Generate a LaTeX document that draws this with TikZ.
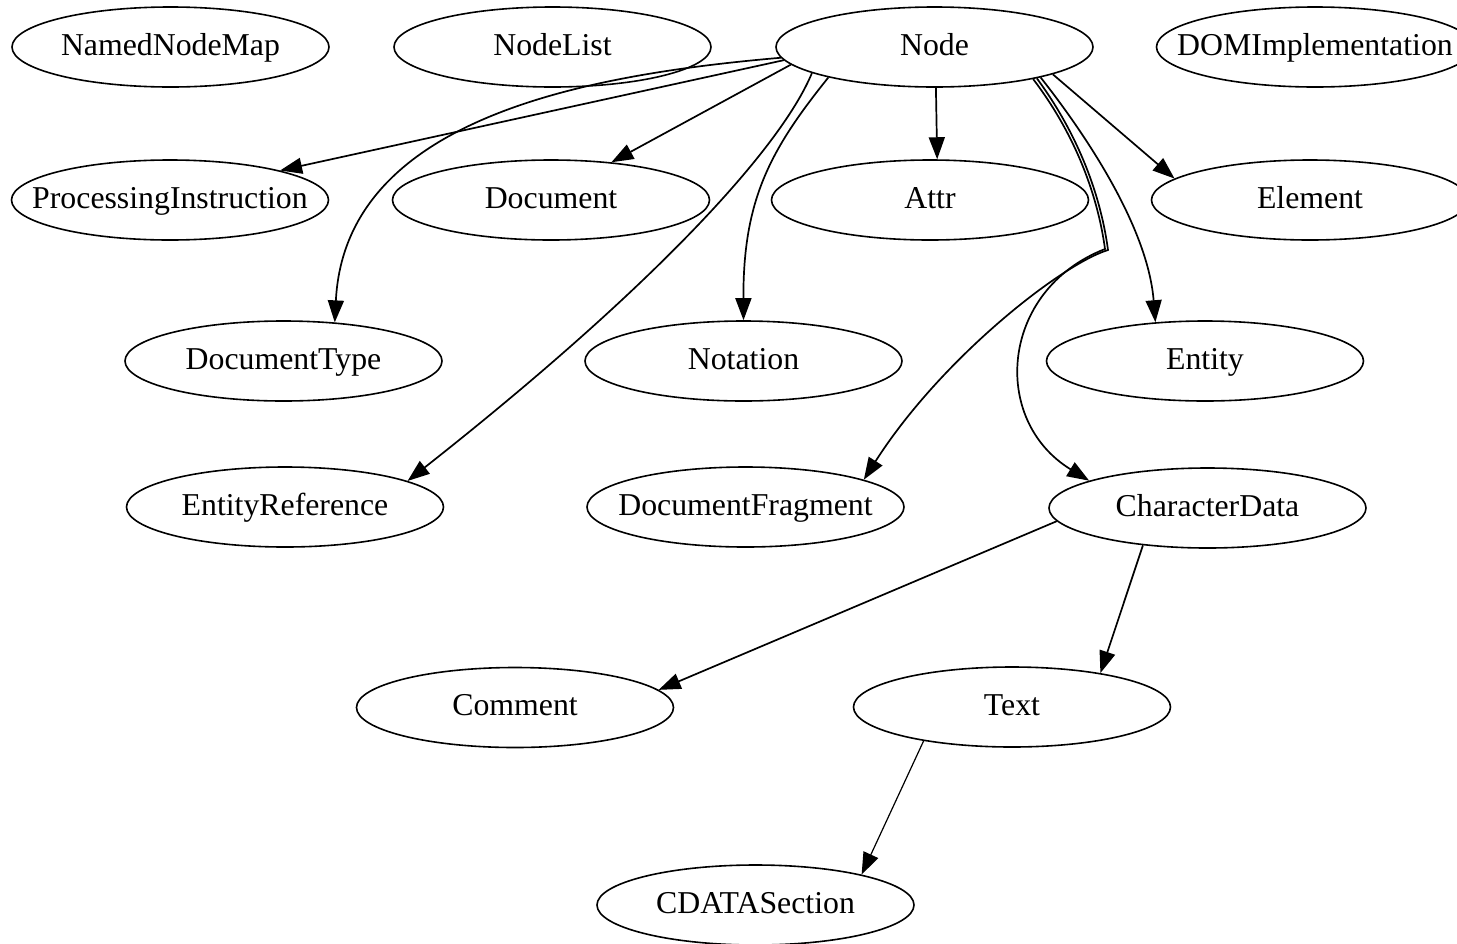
\documentclass[tikz,border=0pt]{standalone}
\usepackage{fontspec}
\setmainfont{Liberation Serif}
\usetikzlibrary{arrows.meta,shapes.geometric}
\begin{document}
\begin{tikzpicture}[x=1pt,y=-1pt,
  cls/.style={draw, ellipse, line width=1.6pt, minimum width=317pt, minimum height=80pt,
    inner xsep=-30pt, inner ysep=0pt, text height=22pt, text depth=6pt,
    font=\fontsize{31.8}{36}\selectfont},
  inh/.style={line width=1.7pt, -{Triangle[length=22pt,width=16pt]}},
  inhthin/.style={inh, line width=1.2pt},
]
\fill[white] (0,0) rectangle (1457,943);
\useasboundingbox (0,0) rectangle (1457,943);
\clip (0,0) rectangle (1457,943);

% interfaces
\node[cls] (NamedNodeMap)      at (170.5,47)  {NamedNodeMap};
\node[cls] (NodeList)          at (552.5,47)  {NodeList};
\node[cls] (Node)              at (934.5,47)  {Node};
\node[cls] (DOMImplementation) at (1315,47)   {DOMImplementation};
\node[cls] (PI)                at (170,200)   {ProcessingInstruction};
\node[cls] (Document)          at (551,200)   {Document};
\node[cls] (Attr)              at (930,200)   {Attr};
\node[cls] (Element)           at (1310,200)  {Element};
\node[cls] (DocumentType)      at (283.5,361) {DocumentType};
\node[cls] (Notation)          at (743.5,361) {Notation};
\node[cls] (Entity)            at (1205,361)  {Entity};
\node[cls] (EntityReference)   at (285,507)   {EntityReference};
\node[cls] (DocumentFragment)  at (745.5,507) {DocumentFragment};
\node[cls] (CharacterData)     at (1207.5,508){CharacterData};
\node[cls] (Comment)           at (515,707.5) {Comment};
\node[cls] (Text)              at (1012,707)  {Text};
\node[cls] (CDATASection)      at (755.5,905) {CDATASection};

% inheritance from Node
\draw[inh] (Node.185.6) -- (PI.15.5);
\draw[inh] (Node.184.2) .. controls (580,75) and (345,120) .. (DocumentType.37);
\draw[inh] (Node.187.1) -- (Document.32);
\draw[inh] (Node.192.9) .. controls (780,150) and (650,290) .. (EntityReference.12.4);
\draw[inh] (Node.196.2) .. controls (770,150) and (743,200) .. (Notation.north);
\draw[inh] (Node.-88) -- (Attr.80);
\draw[inh] (Node.343.5) .. controls (1075,130) and (1100,190) .. (1108,250)
                        .. controls (1060,265) and (940,360) .. (DocumentFragment.13.5);
\draw[inh] (Node.342.8) .. controls (1072,130) and (1097,190) .. (1105,249)
                        .. controls (1000,290) and (990,420) .. (CharacterData.167);
\draw[inh] (Node.344.3) .. controls (1090,140) and (1148,230) .. (Entity.142);
\draw[inh] (Node.347.5) -- (Element.171.4);

% character data branch
\draw[inh] (CharacterData.185.8) -- (Comment.7);
\draw[inh] (CharacterData.210) -- (Text.21);
\draw[inhthin] (Text.201) -- (CDATASection.16.3);
\end{tikzpicture}
\end{document}
